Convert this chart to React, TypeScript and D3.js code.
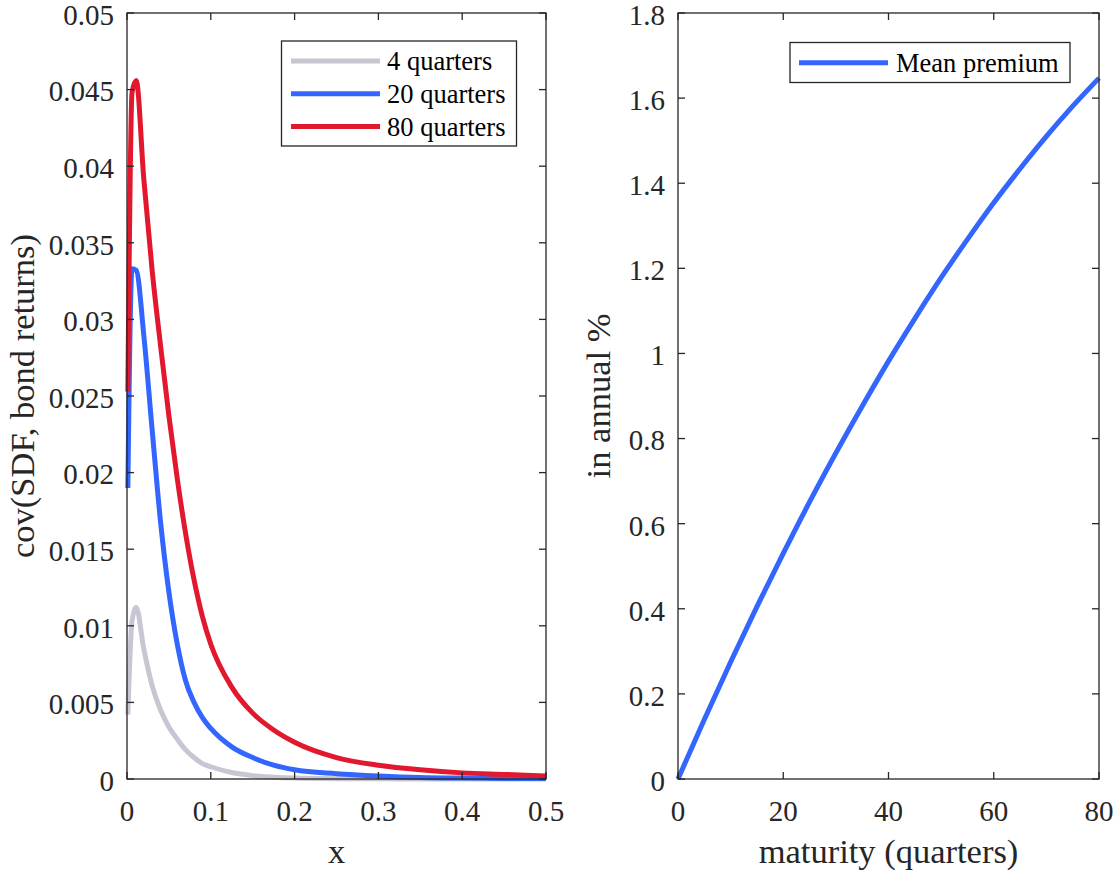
import React from "react";
import * as d3 from "d3";

// ---------- data ----------
const xGrid = [0.001, 0.006, 0.011, 0.02, 0.03, 0.04, 0.05, 0.06, 0.07, 0.08, 0.09, 0.1, 0.125, 0.15, 0.175, 0.2, 0.25, 0.3, 0.35, 0.4, 0.45, 0.5];
const q4 = [0.0042, 0.0103, 0.0112, 0.0085, 0.0061, 0.0045, 0.0034, 0.0026, 0.0019, 0.0014, 0.001, 0.0008, 0.00042, 0.00022, 0.00012, 0.00006, 0.00002, 0.00001, 0, 0, 0, 0];
const q20 = [0.019, 0.0333, 0.0332, 0.029, 0.0228, 0.0168, 0.0122, 0.0088, 0.0064, 0.005, 0.004, 0.0033, 0.0021, 0.0014, 0.0009, 0.0006, 0.00035, 0.0002, 0.0001, 0.00006, 0.00004, 0.00003];
const q80 = [0.0253, 0.0448, 0.0456, 0.0392, 0.0332, 0.0283, 0.0237, 0.0196, 0.016, 0.013, 0.0106, 0.0088, 0.006, 0.0043, 0.0032, 0.0024, 0.0014, 0.0009, 0.0006, 0.0004, 0.0003, 0.0002];
const seriesNames = ["4 quarters", "20 quarters", "80 quarters"];
const seriesColors = ["#c8c6d2", "#3366ff", "#e2182e"];

const maturity = [0, 5, 10, 15, 20, 25, 30, 35, 40, 45, 50, 55, 60, 65, 70, 75, 80];
const meanPremium = [0, 0.14, 0.275, 0.405, 0.53, 0.651, 0.766, 0.876, 0.982, 1.082, 1.178, 1.268, 1.354, 1.434, 1.51, 1.581, 1.647];

const leftYTicks = [0, 0.005, 0.01, 0.015, 0.02, 0.025, 0.03, 0.035, 0.04, 0.045, 0.05];
const leftXTicks = [0, 0.1, 0.2, 0.3, 0.4, 0.5];
const rightYTicks = [0, 0.2, 0.4, 0.6, 0.8, 1, 1.2, 1.4, 1.6, 1.8];
const rightXTicks = [0, 20, 40, 60, 80];

const FONT = "'Liberation Serif', 'Times New Roman', serif";
const AX = "#262626";
const TICK_FS = 29;
const LABEL_FS = 34.5;
const LEG_FS = 26.5;
const TL = 7;

type PanelProps = {
  x0: number; x1: number; y0: number; y1: number;
  xs: d3.ScaleLinear<number, number>; ys: d3.ScaleLinear<number, number>;
  xTicks: number[]; yTicks: number[];
  xLabel: string; yLabel: string; yLabelX: number;
};

function Frame(p: PanelProps) {
  const { x0, x1, y0, y1, xs, ys, xTicks, yTicks } = p;
  return (
    <g>
      <rect x={x0} y={y0} width={x1 - x0} height={y1 - y0} fill="none" stroke={AX} strokeWidth={1.3} />
      {xTicks.map((t, i) => (
        <g key={"x" + i}>
          <line x1={xs(t)} x2={xs(t)} y1={y1} y2={y1 - TL} stroke={AX} strokeWidth={1.3} />
          <line x1={xs(t)} x2={xs(t)} y1={y0} y2={y0 + TL} stroke={AX} strokeWidth={1.3} />
          <text x={xs(t)} y={y1 + 42} textAnchor="middle" fontFamily={FONT} fontSize={TICK_FS} fill={AX}>{String(t)}</text>
        </g>
      ))}
      {yTicks.map((t, i) => (
        <g key={"y" + i}>
          <line x1={x0} x2={x0 + TL} y1={ys(t)} y2={ys(t)} stroke={AX} strokeWidth={1.3} />
          <line x1={x1} x2={x1 - TL} y1={ys(t)} y2={ys(t)} stroke={AX} strokeWidth={1.3} />
          <text x={x0 - 13} y={ys(t)} dy="0.41em" textAnchor="end" fontFamily={FONT} fontSize={TICK_FS} fill={AX}>{String(t)}</text>
        </g>
      ))}
      <text x={(x0 + x1) / 2} y={y1 + 84} textAnchor="middle" fontFamily={FONT} fontSize={LABEL_FS} fill={AX}>{p.xLabel}</text>
      <text transform={`translate(${p.yLabelX},${(y0 + y1) / 2}) rotate(-90)`} textAnchor="middle" fontFamily={FONT} fontSize={LABEL_FS} fill={AX}>{p.yLabel}</text>
    </g>
  );
}

export default function App() {
  const L = { x0: 127, x1: 546, y0: 13, y1: 779 };
  const R = { x0: 678, x1: 1099, y0: 13, y1: 779 };
  const lx = d3.scaleLinear().domain([0, 0.5]).range([L.x0, L.x1]);
  const ly = d3.scaleLinear().domain([0, 0.05]).range([L.y1, L.y0]);
  const rx = d3.scaleLinear().domain([0, 80]).range([R.x0, R.x1]);
  const ry = d3.scaleLinear().domain([0, 1.8]).range([R.y1, R.y0]);

  const leftLine = d3.line<number>().x((_, i) => lx(xGrid[i])).y((v) => ly(v)).curve(d3.curveMonotoneX);
  const rightLine = d3.line<number>().x((_, i) => rx(maturity[i])).y((v) => ry(v)).curve(d3.curveMonotoneX);
  const series = [q4, q20, q80];

  return (
    <svg width={1115} height={874} style={{ position: "absolute", left: 0, top: 0, background: "#fff" }}>
      <rect width={1115} height={874} fill="#fff" />
      {series.map((s, i) => (
        <path key={i} d={leftLine(s) || ""} fill="none" stroke={seriesColors[i]} strokeWidth={5} strokeLinejoin="round" />
      ))}
      <Frame {...L} xs={lx} ys={ly} xTicks={leftXTicks} yTicks={leftYTicks} xLabel="x" yLabel="cov(SDF, bond returns)" yLabelX={34} />
      {/* left legend */}
      <g>
        <rect x={281.5} y={41} width={235} height={105} fill="#fff" stroke={AX} strokeWidth={1.3} />
        {seriesNames.map((n, i) => {
          const cy = 61 + i * 32.7;
          return (
            <g key={n}>
              <line x1={291} x2={380} y1={cy} y2={cy} stroke={seriesColors[i]} strokeWidth={5} />
              <text x={387} y={cy} dy="0.35em" fontFamily={FONT} fontSize={LEG_FS} fill="#000">{n}</text>
            </g>
          );
        })}
      </g>

      <path d={rightLine(meanPremium) || ""} fill="none" stroke={seriesColors[1]} strokeWidth={5} />
      <Frame {...R} xs={rx} ys={ry} xTicks={rightXTicks} yTicks={rightYTicks} xLabel="maturity (quarters)" yLabel="in annual %" yLabelX={610} />
      <g>
        <rect x={790} y={42.5} width={280} height={40} fill="#fff" stroke={AX} strokeWidth={1.3} />
        <line x1={799} x2={888} y1={62.7} y2={62.7} stroke={seriesColors[1]} strokeWidth={5} />
        <text x={896} y={62.7} dy="0.35em" fontFamily={FONT} fontSize={LEG_FS} fill="#000">Mean premium</text>
      </g>
    </svg>
  );
}
